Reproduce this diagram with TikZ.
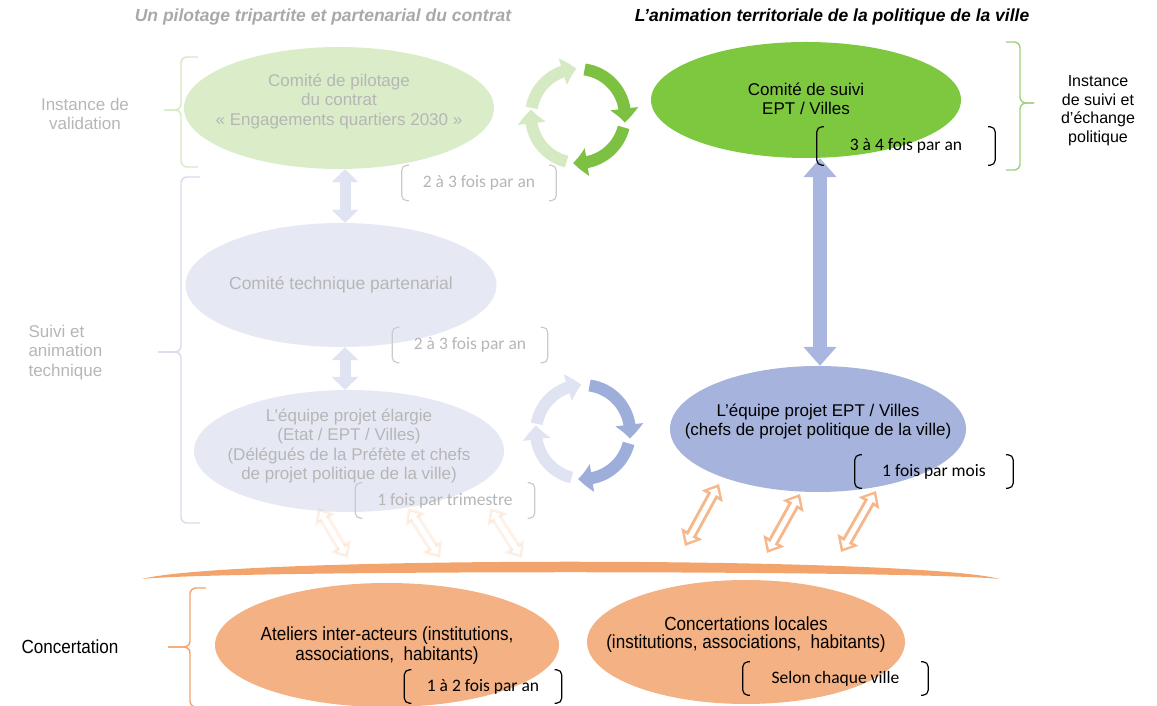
\documentclass[tikz,border=0pt]{standalone}
\usepackage{fontspec}
\setmainfont{Liberation Sans}
\newfontfamily\calibri{Carlito}
\newfontfamily\etroit[FakeStretch=0.9]{Liberation Sans}
\usetikzlibrary{arrows.meta,bending,shapes.geometric}

\definecolor{gristitre}{HTML}{A9A9A9}
\definecolor{grispale}{HTML}{B6B6B6}
\definecolor{crochetpale}{HTML}{CBCBCB}
\definecolor{vertpale}{HTML}{DAEDC8}
\definecolor{vertfort}{HTML}{7DC83E}
\definecolor{vertfleche}{HTML}{7CC142}
\definecolor{vertclair}{HTML}{D5EAC3}
\definecolor{vertaccolade}{HTML}{9ED27A}
\definecolor{mauvepale}{HTML}{E6E9F4}
\definecolor{mauveclair}{HTML}{DFE3F2}
\definecolor{mauveaccolade}{HTML}{D5DAEE}
\definecolor{bleu}{HTML}{A5B3DD}
\definecolor{bleufleche}{HTML}{A9B7E0}
\definecolor{bleufonce}{HTML}{9DAEDB}
\definecolor{peche}{HTML}{F4B183}
\definecolor{pechebarre}{HTML}{F2A46C}
\definecolor{pechetrait}{HTML}{F5B88C}
\definecolor{pecheaccolade}{HTML}{F3A36C}

\tikzset{
  bulle/.style={ellipse, inner sep=0pt},
  texte/.style={align=center, font=\fontsize{17}{19.5}\selectfont},
  freq/.style={minimum height=35pt, inner sep=0pt, font=\calibri\fontsize{17.5}{20}\selectfont},
  crochet/.style={rounded corners=5pt, line width=1.2pt},
  accolade/.style={rounded corners=6pt, line width=1.4pt},
  bloc/.style={line width=14pt, {Triangle[length=19pt,width=32pt]}-{Triangle[length=19pt,width=32pt]}},
  petitbloc/.style={line width=11pt, {Triangle[length=13pt,width=26pt]}-{Triangle[length=13pt,width=26pt]}},
  tour/.style={line width=12pt, -{Triangle[length=14pt,width=27pt,bend]}},
  creux/.style={line width=11pt, {Triangle[length=14pt,width=23pt]}-{Triangle[length=14pt,width=23pt]}},
  creuxint/.style={line width=5pt, white, {Triangle[length=7pt,width=12pt]}-{Triangle[length=7pt,width=12pt]}, shorten <=4pt, shorten >=4pt}
}

\begin{document}
\begin{tikzpicture}[x=1pt, y=1pt]
  \useasboundingbox (0,0) rectangle (1157,706);

  % titres
  \node[font=\bfseries\itshape\fontsize{17.5}{20}\selectfont, gristitre] (titreg) at (323,689) {Un pilotage tripartite et partenarial du contrat};
  \node[font=\bfseries\itshape\fontsize{17.5}{20}\selectfont] (titred) at (832,689) {L’animation territoriale de la politique de la ville};

  % accolades
  \draw[accolade, vertclair] (198,649) -| (181,596) -- (164,596);
  \draw[accolade, vertclair] (198,539) -| (181,596) -- (164,596);
  \draw[accolade, mauveaccolade] (200,529) -| (181,354) -- (158,354);
  \draw[accolade, mauveaccolade] (200,183) -| (181,354) -- (158,354);
  \draw[accolade, vertaccolade] (1006,664) -| (1020,603) -- (1034,603);
  \draw[accolade, vertaccolade] (1006,536) -| (1020,603) -- (1034,603);
  \draw[accolade, pecheaccolade] (206,118) -| (190,59) -- (168,59);
  \draw[accolade, pecheaccolade] (206,-1) -| (190,59) -- (168,59);

  \node[texte, grispale] (validation) at (85,592) {Instance de\\validation};
  \node[texte, grispale, align=left, anchor=west] (animation) at (25,353.5) {Suivi et\\animation\\technique};
  \node[texte, font=\fontsize{16}{18.5}\selectfont] (echange) at (1098,595.5) {Instance\\de suivi et\\d’échange\\politique};
  \node[font=\etroit\fontsize{19}{21}\selectfont, anchor=west] (concertation) at (18,59) {Concertation};

  % bulles
  \node[bulle, fill=vertpale, minimum width=310pt, minimum height=122pt] (pilotage) at (339,598) {};
  \node[bulle, fill=mauvepale, minimum width=311pt, minimum height=124pt] (technique) at (341,421) {};
  \node[bulle, fill=mauvepale, minimum width=310pt, minimum height=122pt] (elargie) at (349,255) {};
  \node[bulle, fill=vertfort, minimum width=310pt, minimum height=116pt] (suivi) at (806,606) {};
  \node[bulle, fill=bleu, minimum width=296pt, minimum height=126pt] (equipe) at (818,277) {};
  \node[bulle, fill=peche, minimum width=344pt, minimum height=124pt] (ateliers) at (387,61) {};
  \node[bulle, fill=peche, minimum width=318pt, minimum height=124pt] (locales) at (746,64) {};

  \node[texte, grispale] (pilotaget) at (339,604.5) {Comité de pilotage\\du contrat\\« Engagements quartiers 2030 »};
  \node[texte, grispale, font=\fontsize{17.5}{19.5}\selectfont] (techniquet) at (341,421) {Comité technique partenarial};
  \node[texte, grispale] (elargiet) at (349,260) {L’équipe projet élargie\\(Etat / EPT / Villes)\\(Délégués de la Préfète et chefs\\de projet politique de la ville)};
  \node[texte] (suivit) at (806,607) {Comité de suivi\\EPT / Villes};
  \node[texte] (equipet) at (818,284.5) {L’équipe projet EPT / Villes\\(chefs de projet politique de la ville)};
  \node[texte, font=\etroit\fontsize{19}{20}\selectfont] (atelierst) at (387,60) {Ateliers inter-acteurs (institutions,\\associations,\ \ habitants)};
  \node[texte, font=\etroit\fontsize{19}{18}\selectfont] (localest) at (746,71) {Concertations locales\\(institutions, associations,\ \ habitants)};

  % fleches de liaison
  \draw[petitbloc, mauveclair] ([xshift=6pt]pilotage.south) -- ([xshift=4pt]technique.north);
  \draw[petitbloc, mauveclair] ([xshift=4pt]technique.south) -- ([xshift=-4pt]elargie.north);
  \draw[bloc, bleufleche] ([xshift=14pt]suivi.south) -- ([xshift=2pt]equipe.north);

  % cycles
  \coordinate (tourvert) at (578,590);
  \draw[tour, vertclair] (tourvert) ++(170:47) arc[start angle=170, end angle=92, radius=47];
  \draw[tour, vertfleche] (tourvert) ++(82:47) arc[start angle=82, end angle=-8, radius=47];
  \draw[tour, vertfleche] (tourvert) ++(-14:47) arc[start angle=-14, end angle=-96, radius=47];
  \draw[tour, vertclair] (tourvert) ++(-104:47) arc[start angle=-104, end angle=-188, radius=47];
  \coordinate (tourbleu) at (583,274);
  \draw[tour, mauveclair] (tourbleu) ++(170:47) arc[start angle=170, end angle=92, radius=47];
  \draw[tour, bleufonce] (tourbleu) ++(82:47) arc[start angle=82, end angle=-8, radius=47];
  \draw[tour, bleufonce] (tourbleu) ++(-14:47) arc[start angle=-14, end angle=-96, radius=47];
  \draw[tour, mauveclair] (tourbleu) ++(-104:47) arc[start angle=-104, end angle=-188, radius=47];

  % frequences
  \node[freq, grispale, minimum width=154pt] (fa) at (479,523) {2 à 3 fois par an};
  \node[freq, grispale, minimum width=155pt] (fb) at (470,361) {2 à 3 fois par an};
  \node[freq, grispale, minimum width=179pt] (fc) at (445,205.5) {1 fois par trimestre};
  \node[freq, minimum width=178pt, minimum height=38pt] (fd) at (906,560) {3 à 4 fois par an};
  \node[freq, minimum width=158pt, minimum height=33pt] (fe) at (934,234.5) {1 fois par mois};
  \node[freq, minimum width=157pt, minimum height=33pt] (ff) at (483,19.5) {1 à 2 fois par an};
  \node[freq, minimum width=185pt, minimum height=33pt] (fg) at (835.5,27.5) {Selon chaque ville};
  \foreach \f/\c in {fa/crochetpale, fb/crochetpale, fc/crochetpale, fd/black, fe/black, ff/black, fg/black}{
    \draw[crochet, \c] ([xshift=7pt]\f.north west) -- (\f.north west) -- (\f.south west) -- ([xshift=7pt]\f.south west);
    \draw[crochet, \c] ([xshift=-7pt]\f.north east) -- (\f.north east) -- (\f.south east) -- ([xshift=-7pt]\f.south east);
  }

  % concertation
  \fill[pechebarre] (142,127) .. controls (230,150) and (910,150) .. (1000,127) .. controls (910,136) and (230,136) .. cycle;
  \coordinate (bas1) at (685,160);  \coordinate (haut1) at (719,222);
  \coordinate (bas2) at (767,153);  \coordinate (haut2) at (800,212);
  \coordinate (bas3) at (841,154);  \coordinate (haut3) at (876,215);
  \coordinate (gbas1) at (348,148); \coordinate (ghaut1) at (318,198);
  \coordinate (gbas2) at (440,148); \coordinate (ghaut2) at (408,198);
  \coordinate (gbas3) at (522,148); \coordinate (ghaut3) at (490,198);
  \foreach \i in {1,2,3}{
    \draw[creux, pechetrait] (bas\i) -- (haut\i);
    \draw[creuxint] (bas\i) -- (haut\i);
    \begin{scope}[opacity=0.2]
      \draw[creux, pechetrait] (gbas\i) -- (ghaut\i);
    \end{scope}
    \draw[creuxint] (gbas\i) -- (ghaut\i);
  }
\end{tikzpicture}
\end{document}
